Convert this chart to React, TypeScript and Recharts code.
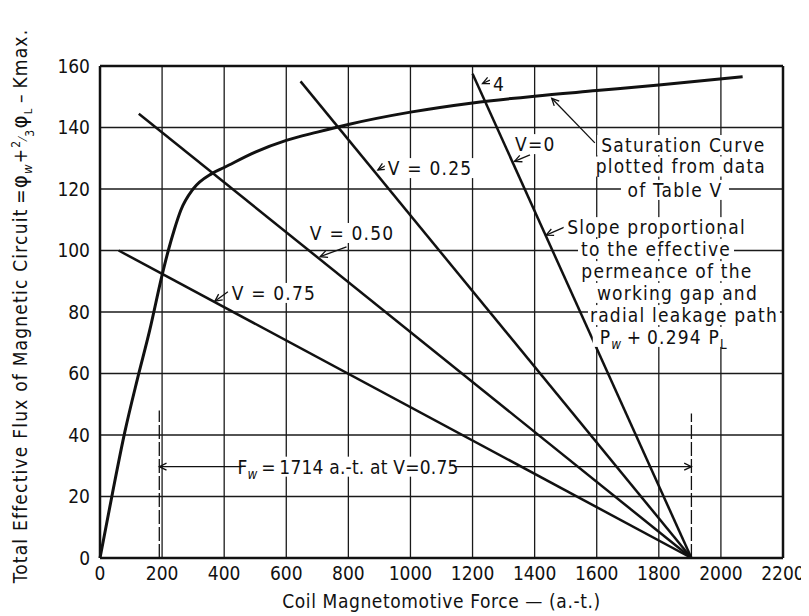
import React from "react";
import {
  LineChart,
  Line,
  XAxis,
  YAxis,
  CartesianGrid,
  ReferenceLine,
  ReferenceDot,
} from "recharts";

const FONT = "'Liberation Sans Narrow', 'DejaVu Sans Condensed', 'Roboto Condensed', 'Arial Narrow', sans-serif";

// axis ticks
const xTicks = [0, 200, 400, 600, 800, 1000, 1200, 1400, 1600, 1800, 2000, 2200];
const yTicks = [0, 20, 40, 60, 80, 100, 120, 140, 160];

// saturation curve (Table V)
const satX = [0, 40, 80, 120, 160, 200, 220, 240, 260, 300, 360, 400, 500, 600, 700, 800, 1000, 1200, 1400, 1600, 1800, 2070];
const satY = [0, 21, 41, 58, 74, 92, 100, 107, 113, 120, 125, 127, 132, 135.8, 138.5, 141, 145, 148, 150.2, 152, 153.8, 156.5];

// load lines, all meeting at the coil mmf on the x axis
const loadNames = ["V=0", "V=0.25", "V=0.50", "V=0.75"];
const loadStartX = [1200, 646, 125, 60];
const loadStartY = [157.5, 155, 144.5, 100];
const loadEndX = 1905;
const loadEndY = 0;

const satData = satX.map((x, i) => ({ x, y: satY[i] }));
const loadData = loadNames.map((name, i) => ({
  name,
  points: [
    { x: loadStartX[i], y: loadStartY[i] },
    { x: loadEndX, y: loadEndY },
  ],
}));

const FS = 19;

const head = (x1: number, y1: number, x2: number, y2: number) => {
  const a = Math.atan2(y2 - y1, x2 - x1);
  const l = 8;
  const s = 0.45;
  return `M${x2 - l * Math.cos(a - s)},${y2 - l * Math.sin(a - s)} L${x2},${y2} L${x2 - l * Math.cos(a + s)},${y2 - l * Math.sin(a + s)}`;
};

const Arrow = (p: any) => {
  const { x1, y1, x2, y2, both } = p;
  return (
    <g>
      <line x1={x1} y1={y1} x2={x2} y2={y2} stroke="#111" strokeWidth={1.3} />
      <path d={head(x1, y1, x2, y2)} stroke="#111" strokeWidth={1.3} fill="none" />
      {both && <path d={head(x2, y2, x1, y1)} stroke="#111" strokeWidth={1.3} fill="none" />}
    </g>
  );
};

const Note = (props: any) => {
  const { cx, cy, w, anchor = "start", ls = 1.2, children } = props;
  const left = anchor === "start" ? cx - 3 : cx - w / 2;
  return (
    <g>
      <rect x={left} y={cy - 10} width={w} height={20} fill="#fff" />
      <text
        x={cx}
        y={cy}
        dy="0.36em"
        textAnchor={anchor}
        fontSize={FS}
        letterSpacing={ls}
        fontFamily={FONT}
        fill="#111"
      >
        {children}
      </text>
    </g>
  );
};

const sub = (s: string, italic = false) => (
  <tspan fontSize={FS * 0.7} dy={5} fontStyle={italic ? "italic" : "normal"}>
    {s}
  </tspan>
);

type NoteDef = { x: number; y: number; w: number; anchor?: string; ls?: number; body: React.ReactNode };

const notes: NoteDef[] = [
  { x: 927, y: 126.8, w: 96, body: "V = 0.25" },
  { x: 676, y: 105.7, w: 94, body: "V = 0.50" },
  { x: 424, y: 86.2, w: 96, body: "V = 0.75" },
  { x: 1337, y: 134.6, w: 54, body: "V=0" },
  { x: 1266, y: 154.1, w: 14, body: "4" },
  { x: 1879, y: 134.3, w: 172, anchor: "middle", body: "Saturation Curve" },
  { x: 1871, y: 127.3, w: 178, anchor: "middle", body: "plotted from data" },
  { x: 1852, y: 119.7, w: 108, anchor: "middle", body: "of Table V" },
  { x: 1793, y: 107.6, w: 186, anchor: "middle", body: "Slope proportional" },
  { x: 1791, y: 100.5, w: 156, anchor: "middle", body: "to the effective" },
  { x: 1826, y: 93.3, w: 176, anchor: "middle", body: "permeance of the" },
  { x: 1860, y: 86.2, w: 164, anchor: "middle", body: "working gap and" },
  { x: 1881, y: 79.0, w: 192, anchor: "middle", body: "radial leakage path" },
  {
    x: 1816,
    y: 71.9,
    w: 142,
    anchor: "middle",
    body: (
      <>
        P{sub("w", true)}
        <tspan dy={-5}>{"\u2009+\u20090.294 P"}</tspan>
        {sub("L")}
      </>
    ),
  },
  {
    x: 799,
    y: 29.7,
    w: 212,
    anchor: "middle",
    ls: 0.2,
    body: (
      <>
        F{sub("w", true)}
        <tspan dy={-5}>{"\u2009=\u20091714 a.-t. at V=0.75"}</tspan>
      </>
    ),
  },
];

type ArrowDef = { from: [number, number]; to: [number, number]; both?: boolean };

const arrows: ArrowDef[] = [
  { from: [923, 127.8], to: [895, 126.2] },
  { from: [794, 101.2], to: [709, 98] },
  { from: [412, 86.6], to: [370, 83.5] },
  { from: [1385, 131.1], to: [1335, 129] },
  { from: [1256, 155.4], to: [1232, 154.3] },
  { from: [1594, 135], to: [1455, 149.5] },
  { from: [1498, 107.7], to: [1437, 105] },
  { from: [191, 29.7], to: [1905, 29.7], both: true },
];

const YLabel = (p: any) => {
  const vb = p.viewBox;
  const cx = 12;
  const cy = vb.y + vb.height / 2 - 6;
  return (
    <text
      x={cx}
      y={cy}
      transform={`rotate(-90 ${cx} ${cy})`}
      textAnchor="middle"
      dy="0.36em"
      fontSize={19}
      letterSpacing={1.2}
      fontFamily={FONT}
      fill="#111"
    >
      Total Effective Flux of Magnetic Circuit{"\u2009="}
      <tspan fontSize={22}>{"\u03c6"}</tspan>
      <tspan fontSize={13} dy={5} fontStyle="italic">w</tspan>
      <tspan dy={-5}>+</tspan>
      <tspan fontSize={12} dy={-7}>2</tspan>
      <tspan fontSize={12} dy={7}>{"\u2044"}</tspan>
      <tspan fontSize={12} dy={7}>3</tspan>
      <tspan fontSize={22} dy={-7}>{"\u03c6"}</tspan>
      <tspan fontSize={11} dy={5}>L</tspan>
      <tspan dy={-5}>{"\u2009\u2013\u2009Kmax."}</tspan>
    </text>
  );
};

const XLabel = (p: any) => {
  const vb = p.viewBox;
  return (
    <text
      x={vb.x + vb.width / 2}
      y={vb.y + 43}
      textAnchor="middle"
      dy="0.36em"
      fontSize={19}
      letterSpacing={0.6}
      fontFamily={FONT}
      fill="#111"
    >
      Coil Magnetomotive Force {"\u2014"} (a.-t.)
    </text>
  );
};

export default function App() {
  const tick = { fontSize: 19, fontFamily: FONT, fill: "#111" };
  return (
    <LineChart width={801} height={608} margin={{ top: 58, right: 26, left: 0, bottom: 0 }}>
      <CartesianGrid stroke="#1a1a1a" strokeWidth={1.3} />
      <XAxis
        dataKey="x"
        type="number"
        domain={[0, 2200]}
        ticks={xTicks}
        interval={0}
        tick={tick}
        tickLine={false}
        tickSize={0}
        tickMargin={9}
        axisLine={{ stroke: "#111", strokeWidth: 2.5 }}
        height={58}
        label={{ content: XLabel }}
      />
      <YAxis
        type="number"
        domain={[0, 160]}
        ticks={yTicks}
        interval={0}
        tick={tick}
        tickLine={false}
        tickSize={0}
        tickMargin={10}
        axisLine={{ stroke: "#111", strokeWidth: 2.5 }}
        width={92}
        label={{ content: YLabel }}
      />
      <ReferenceLine y={160} stroke="#111" strokeWidth={2.5} />
      <ReferenceLine x={2200} stroke="#111" strokeWidth={2.5} />
      <ReferenceLine
        segment={[{ x: 191, y: 0 }, { x: 191, y: 48 }]}
        stroke="#111"
        strokeWidth={1.3}
        strokeDasharray="14 3"
      />
      <ReferenceLine
        segment={[{ x: 1905, y: 0 }, { x: 1905, y: 47 }]}
        stroke="#111"
        strokeWidth={1.3}
        strokeDasharray="14 3"
      />
      {arrows.map((a, i) => (
        <ReferenceLine
          key={"a" + i}
          segment={[{ x: a.from[0], y: a.from[1] }, { x: a.to[0], y: a.to[1] }]}
          shape={(p: any) => <Arrow {...p} both={a.both} />}
        />
      ))}
      {notes.map((n, i) => (
        <ReferenceDot
          key={"n" + i}
          x={n.x}
          y={n.y}
          r={1}
          ifOverflow="visible"
          shape={(p: any) => (
            <Note cx={p.cx} cy={p.cy} w={n.w} anchor={n.anchor} ls={n.ls}>
              {n.body}
            </Note>
          )}
        />
      ))}
      <Line
        data={satData}
        dataKey="y"
        type="monotone"
        stroke="#111"
        strokeWidth={3}
        dot={false}
        isAnimationActive={false}
      />
      {loadData.map((l) => (
        <Line
          key={l.name}
          name={l.name}
          data={l.points}
          dataKey="y"
          type="linear"
          stroke="#111"
          strokeWidth={2.5}
          dot={false}
          isAnimationActive={false}
        />
      ))}
    </LineChart>
  );
}
